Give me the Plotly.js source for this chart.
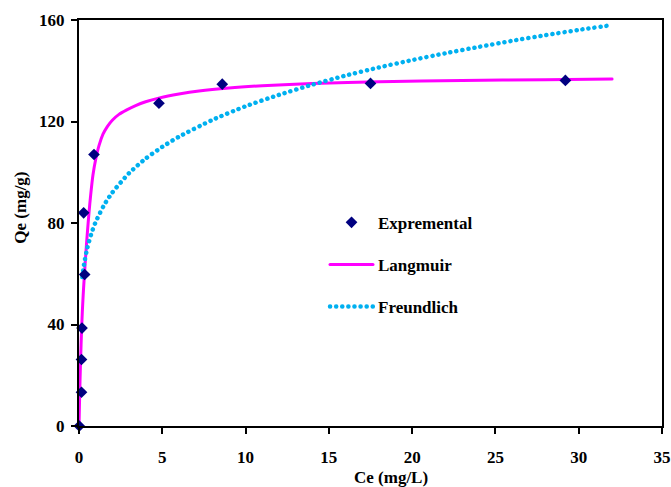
<!DOCTYPE html>
<html>
<head>
<meta charset="utf-8">
<script src="https://cdn.plot.ly/plotly-3.0.1.min.js"></script>
<style>
html, body { margin: 0; padding: 0; background: #fff; }
#chart { width: 671px; height: 487px; }
.js-line { stroke-linecap: round; }
</style>
</head>
<body>
<div id="chart"></div>
<script>
// Experimental data
var expCe = [0.02, 0.15, 0.15, 0.18, 0.34, 0.28, 0.9, 4.8, 8.6, 17.5, 29.2];
var expQe = [0, 13.3, 26.2, 38.6, 59.7, 84, 107, 127.2, 134.7, 135, 136.2];

// Langmuir curve
var langCe = [0, 0.03, 0.06, 0.1, 0.15, 0.2, 0.25, 0.3, 0.4, 0.5, 0.6, 0.7, 0.84, 1.0, 1.2, 1.44, 1.7, 2.0, 2.4, 2.84, 3.4, 4.0, 4.84, 6, 7.2, 9, 11, 14, 18, 23, 28, 32];
var langQe = [0, 9, 17.5, 27, 37, 45, 51.5, 57, 67, 76, 84, 91, 99, 105, 110.5, 115, 118, 120.5, 122.8, 124.5, 126.3, 127.8, 129.3, 130.8, 132, 133.2, 134.1, 135, 135.7, 136.2, 136.5, 136.7];

// Freundlich curve
var freCe = [0.2, 0.3, 0.5, 0.75, 1, 1.5, 2, 3, 4, 5, 6, 8, 10, 12, 14, 16, 18, 20, 22, 24, 26, 28, 30, 32];
var freQe = [58.7, 63.6, 70.2, 76.0, 80.4, 87.0, 92.0, 99.6, 105.4, 110.0, 114.0, 120.6, 126.0, 130.5, 134.5, 138.1, 141.3, 144.2, 146.9, 149.4, 151.8, 154.0, 156.1, 158.0];

var seriesNames = ['Expremental', 'Langmuir', 'Freundlich'];
var xTicks = [0, 5, 10, 15, 20, 25, 30, 35];
var yTicks = [0, 40, 80, 120, 160];

var serif = 'Liberation Serif, Times New Roman, serif';

var traces = [
  {
    x: langCe, y: langQe, name: seriesNames[1], type: 'scatter', mode: 'lines',
    line: { color: '#FF00FF', width: 3, shape: 'spline', smoothing: 0.8 },
    legendgroup: 'b', legendrank: 2
  },
  {
    x: freCe, y: freQe, name: seriesNames[2], type: 'scatter', mode: 'lines',
    line: { color: '#00B0F0', width: 4.5, dash: '0.1px,6px', shape: 'spline', smoothing: 0.6 },
    legendgroup: 'c', legendrank: 3
  },
  {
    x: expCe, y: expQe, name: seriesNames[0], type: 'scatter', mode: 'markers',
    marker: { symbol: 'diamond', size: 9, color: '#000080' },
    cliponaxis: false,
    legendgroup: 'a', legendrank: 1
  }
];

var axisCommon = {
  showgrid: false, zeroline: false, showline: true, linecolor: '#000', linewidth: 2,
  mirror: true, ticks: 'outside', ticklen: 6, tickwidth: 2, tickcolor: '#000',
  tickfont: { family: serif, size: 17, color: '#000', weight: 'bold' }
};

var layout = {
  width: 671, height: 487,
  margin: { l: 79, r: 9, t: 20, b: 61 },
  paper_bgcolor: '#fff', plot_bgcolor: '#fff',
  showlegend: true,
  xaxis: Object.assign({}, axisCommon, {
    range: [0, 35], tickvals: xTicks, ticktext: xTicks.map(String), ticklabelstandoff: 9
  }),
  yaxis: Object.assign({}, axisCommon, {
    range: [0, 160], tickvals: yTicks, ticktext: yTicks.map(String), ticklabelstandoff: 3
  }),
  legend: {
    x: 0.422, y: 0.545, xanchor: 'left', yanchor: 'top',
    bgcolor: 'rgba(0,0,0,0)', borderwidth: 0,
    itemwidth: 43, tracegroupgap: 17, traceorder: 'grouped',
    font: { family: serif, size: 17, color: '#000', weight: 'bold' }
  },
  annotations: [
    { text: 'Qe (mg/g)', xref: 'paper', yref: 'paper', x: -0.101, y: 0.538,
      xanchor: 'center', yanchor: 'middle', textangle: -90, showarrow: false,
      font: { family: serif, size: 17, color: '#000', weight: 'bold' } },
    { text: 'Ce (mg/L)', xref: 'paper', yref: 'paper', x: 0.535, y: -0.128,
      xanchor: 'center', yanchor: 'middle', showarrow: false,
      font: { family: serif, size: 17, color: '#000', weight: 'bold' } }
  ]
};

Plotly.newPlot('chart', traces, layout, { displayModeBar: false, staticPlot: true });
</script>
</body>
</html>
